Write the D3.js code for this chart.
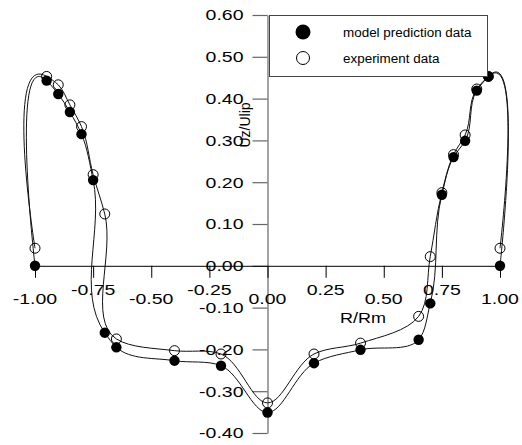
<!DOCTYPE html>
<html>
<head>
<meta charset="utf-8">
<script src="https://cdn.jsdelivr.net/npm/d3@7"></script>
<style>
  html, body { margin: 0; padding: 0; background: #fff; }
  svg { display: block; font-family: "Liberation Sans", Arial, sans-serif; }
</style>
</head>
<body>
<svg id="chart" width="522" height="445"></svg>
<script>
// Radial positions R/Rm
const radius = [-1, -0.95, -0.9, -0.85, -0.8, -0.75, -0.7, -0.65, -0.4, -0.2, 0,
                0.2, 0.4, 0.65, 0.7, 0.75, 0.8, 0.85, 0.9, 0.95, 1];
// Axial velocity Uz/Ulip
const modelValues = [0, 0.443, 0.411, 0.368, 0.315, 0.205, -0.160, -0.195, -0.227, -0.239, -0.351,
                     -0.233, -0.201, -0.177, -0.090, 0.170, 0.260, 0.299, 0.419, 0.453, 0];
const experimentValues = [0.042, 0.453, 0.433, 0.385, 0.333, 0.218, 0.124, -0.175, -0.203, -0.211, -0.328,
                          -0.211, -0.185, -0.121, 0.022, 0.175, 0.266, 0.313, 0.423, 0.453, 0.042];

const xTicks = [-1, -0.75, -0.5, -0.25, 0, 0.25, 0.5, 0.75, 1];
const xTickLabels = ["-1.00", "-0.75", "-0.50", "-0.25", "0.00", "0.25", "0.50", "0.75", "1.00"];
const yTicks = [0.6, 0.5, 0.4, 0.3, 0.2, 0.1, 0, -0.1, -0.2, -0.3, -0.4];
const yTickLabels = ["0.60", "0.50", "0.40", "0.30", "0.20", "0.10", "0.00", "-0.10", "-0.20", "-0.30", "-0.40"];

const seriesNames = ["model prediction data", "experiment data"];

const svg = d3.select("#chart");
const x = d3.scaleLinear().domain([-1, 1]).range([35, 500]);
const y = d3.scaleLinear().domain([-0.4, 0.6]).range([433, 15]);

// widen glyphs horizontally, keeping the anchor
function stretch(sel, k) {
  sel.each(function () {
    const w = this.getComputedTextLength();
    d3.select(this).attr("textLength", w * k).attr("lengthAdjust", "spacingAndGlyphs");
  });
}

// y axis through R = 0
const yAxis = svg.append("g")
  .attr("transform", `translate(${x(0)},0)`)
  .call(d3.axisLeft(y).tickValues(yTicks).tickSize(15).tickSizeOuter(0).tickPadding(9)
        .tickFormat((d, i) => yTickLabels[i]));
yAxis.selectAll("path, line").attr("stroke", "#666").attr("stroke-width", 1.2);
yAxis.selectAll("text").attr("fill", "#000").style("font-size", "15px")
  .style("font-family", "'Liberation Sans', Arial, sans-serif");
stretch(yAxis.selectAll("text"), 1.3);

// x axis along Uz = 0
const xAxis = svg.append("g")
  .attr("transform", `translate(0,${y(0)})`)
  .call(d3.axisBottom(x).tickValues(xTicks).tickSize(12).tickSizeOuter(0).tickFormat(""));
xAxis.selectAll("path, line").attr("stroke", "#000").attr("stroke-width", 1);

// staggered x tick labels
const xLab = svg.append("g").selectAll("text").data(xTicks).join("text")
  .attr("x", d => x(d))
  .attr("y", (d, i) => i % 2 === 0 ? y(0) + 38 : y(0) + 29)
  .attr("text-anchor", "middle")
  .style("font-size", "15px")
  .text((d, i) => xTickLabels[i]);
stretch(xLab, 1.3);

// axis titles
const xTitle = svg.append("text").attr("x", 363).attr("y", 323).attr("text-anchor", "middle")
  .style("font-size", "15px").text("R/Rm");
stretch(xTitle, 1.2);
svg.append("text").attr("transform", "translate(250,125) rotate(-90)").attr("text-anchor", "middle")
  .style("font-size", "14px").text("Uz/Ulip");

// profile curves (chordal Catmull-Rom spline through the points)
const pts = vals => radius.map((r, i) => [r, vals[i]]);
const line = d3.line().x(d => x(d[0])).y(d => y(d[1])).curve(d3.curveCatmullRom.alpha(1));

svg.append("path").attr("d", line(pts(experimentValues)))
  .attr("fill", "none").attr("stroke", "#111").attr("stroke-width", 1);
svg.append("path").attr("d", line(pts(modelValues)))
  .attr("fill", "none").attr("stroke", "#111").attr("stroke-width", 1);

// markers
svg.append("g").selectAll("circle").data(pts(modelValues)).join("circle")
  .attr("cx", d => x(d[0])).attr("cy", d => y(d[1])).attr("r", 5.2).attr("fill", "#000");
svg.append("g").selectAll("circle").data(pts(experimentValues)).join("circle")
  .attr("cx", d => x(d[0])).attr("cy", d => y(d[1])).attr("r", 5)
  .attr("fill", "none").attr("stroke", "#000").attr("stroke-width", 1);

// legend
const lg = svg.append("g");
lg.append("rect").attr("x", 269.5).attr("y", 15.5).attr("width", 218).attr("height", 61)
  .attr("fill", "#fff").attr("stroke", "#444").attr("stroke-width", 1);
lg.append("circle").attr("cx", 303).attr("cy", 32).attr("r", 7.5).attr("fill", "#000");
lg.append("circle").attr("cx", 303).attr("cy", 58).attr("r", 6.5).attr("fill", "#fff")
  .attr("stroke", "#000").attr("stroke-width", 1);
const lgText = lg.selectAll("text").data(seriesNames).join("text")
  .attr("x", 343).attr("y", (d, i) => i === 0 ? 37 : 62.5)
  .style("font-size", "12px").text(d => d);
stretch(lgText, 1.12);
</script>
</body>
</html>
